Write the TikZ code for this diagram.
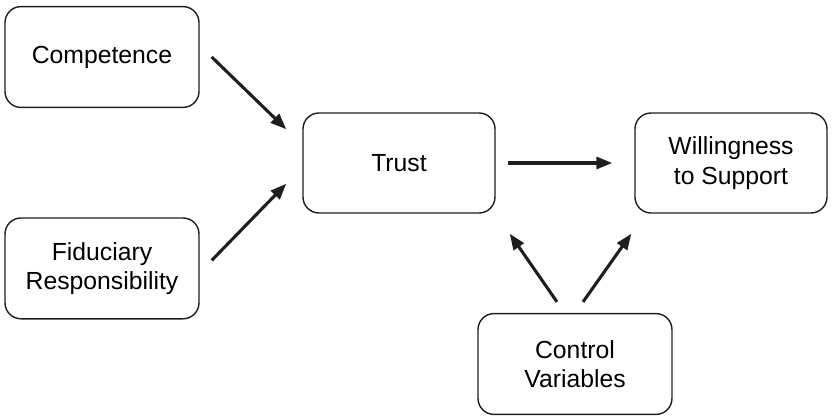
\documentclass[tikz,border=0pt]{standalone}
\usepackage{fontspec}
\setmainfont{Liberation Sans}
\usepackage{tikz}
\usepackage{xcolor}
\usetikzlibrary{arrows.meta}
\definecolor{boxline}{RGB}{30,30,30}

\begin{document}
\begin{tikzpicture}[
  box/.style={draw=boxline, line width=1pt, rounded corners=0.4cm, minimum width=4.85cm, minimum height=2.52cm, align=center, font=\fontsize{17.6}{21}\selectfont},
  arr/.style={-{Triangle[length=0.4cm,width=0.3cm]}, line width=2.2pt, boxline}
]
\useasboundingbox (0,0) rectangle (20.8,-10.425);
\node[box] (comp) at (2.55,-1.425) {Competence};
\node[box] (fid) at (2.55,-6.71) {Fiduciary\\Responsibility};
\node[box, minimum width=4.8cm, minimum height=2.5cm] (trust) at (9.975,-4.075) {Trust};
\node[box, minimum width=4.8cm, minimum height=2.5cm] (will) at (18.275,-4.075) {Willingness\\to Support};
\node[box] (ctrl) at (14.375,-9.1) {Control\\Variables};
\draw[arr] ([xshift=0.3cm]comp.east) -- ([shift={(-0.4cm,-0.425cm)}]trust.north west);
\draw[arr] ([shift={(0.3cm,0.2cm)}]fid.east) -- ([shift={(-0.4cm,0.75cm)}]trust.south west);
\draw[arr, shorten <=0.3cm, shorten >=0.55cm] (trust) -- (will);
\draw[arr] ([shift={(-0.45cm,0.275cm)}]ctrl.north) -- ([shift={(0.35cm,-0.5cm)}]trust.south east);
\draw[arr] ([shift={(0.2cm,0.275cm)}]ctrl.north) -- ([shift={(-0.075cm,-0.5cm)}]will.south west);
\end{tikzpicture}
\end{document}
